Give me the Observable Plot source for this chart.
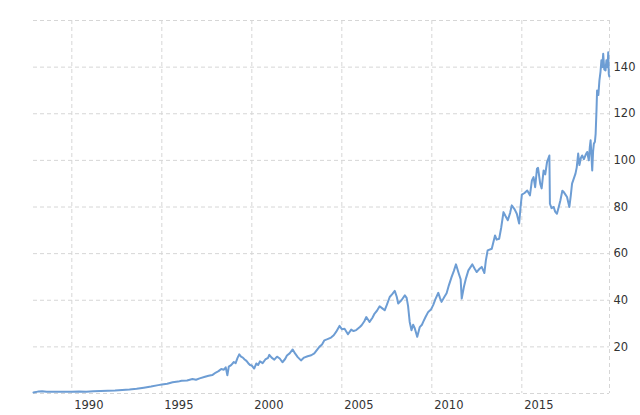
<!DOCTYPE html>
<html>
<head>
<meta charset="utf-8">
<script src="https://cdn.jsdelivr.net/npm/d3@7"></script>
<script src="https://cdn.jsdelivr.net/npm/@observablehq/plot@0.6"></script>
<style>
  html, body { margin: 0; padding: 0; background: #fff; }
  #chart { width: 640px; height: 415px; }
</style>
</head>
<body>
<div id="chart"></div>
<script>
// Decimal years and price values
const years = [
  1987.87,1988.0,1988.15,1988.35,1988.6,1988.9,1989.2,1989.6,1990.0,1990.4,1990.8,1991.2,1991.6,1992.0,1992.4,1992.8,
  1993.2,1993.6,1994.0,1994.4,1994.8,1995.0,1995.3,1995.6,1995.9,1996.1,1996.4,1996.7,1996.9,1997.1,1997.4,1997.6,1997.8,
  1998.0,1998.15,1998.3,1998.45,1998.55,1998.64,1998.72,1998.85,1999.0,1999.1,1999.2,1999.3,1999.4,1999.5,1999.6,1999.7,
  1999.8,1999.9,2000.0,2000.13,2000.25,2000.35,2000.45,2000.6,2000.75,2000.9,2000.97,2001.1,2001.25,2001.4,2001.55,2001.7,
  2001.85,2001.95,2002.1,2002.27,2002.4,2002.55,2002.73,2002.9,2003.1,2003.3,2003.47,2003.6,2003.75,2003.9,2004.03,2004.2,
  2004.4,2004.55,2004.68,2004.87,2005.0,2005.15,2005.34,2005.52,2005.65,2005.8,2006.0,2006.1,2006.25,2006.36,2006.54,2006.7,
  2006.82,2006.95,2007.1,2007.25,2007.38,2007.5,2007.66,2007.8,2007.94,2008.05,2008.13,2008.31,2008.5,2008.6,2008.68,2008.77,
  2008.87,2008.96,2009.05,2009.19,2009.33,2009.45,2009.52,2009.65,2009.8,2009.95,2010.08,2010.2,2010.36,2010.45,2010.54,2010.7,
  2010.82,2010.95,2011.1,2011.22,2011.34,2011.5,2011.6,2011.66,2011.78,2011.9,2012.03,2012.25,2012.38,2012.49,2012.65,2012.77,
  2012.92,2013.0,2013.1,2013.33,2013.51,2013.6,2013.74,2013.85,2013.98,2014.1,2014.22,2014.35,2014.44,2014.6,2014.72,2014.85,
  2014.93,2015.0,2015.15,2015.3,2015.45,2015.56,2015.65,2015.74,2015.84,2015.9,2016.02,2016.1,2016.21,2016.3,2016.4,2016.53,
  2016.56,2016.65,2016.77,2016.85,2016.95,2017.05,2017.14,2017.25,2017.33,2017.45,2017.51,2017.64,2017.72,2017.79,2017.9,2017.98,
  2018.05,2018.13,2018.2,2018.28,2018.35,2018.45,2018.55,2018.63,2018.72,2018.78,2018.82,2018.88,2018.91,2018.96,2019.0,2019.06,
  2019.1,2019.15,2019.18,2019.25,2019.31,2019.37,2019.42,2019.47,2019.52,2019.58,2019.65,2019.7,2019.76,2019.8,2019.83,2019.86
];
const prices = [
  0.4,0.6,0.9,1.0,0.8,0.8,0.7,0.8,0.8,0.9,0.8,1.0,1.1,1.2,1.3,1.5,
  1.7,2.0,2.5,3.0,3.6,3.9,4.2,4.8,5.1,5.5,5.6,6.2,5.9,6.5,7.2,7.6,7.9,
  9.0,9.6,10.5,10.2,11.2,7.8,11.5,12.2,13.5,13.0,15.2,16.8,15.8,15.4,14.6,14.0,
  13.0,12.2,12.0,10.7,12.9,12.2,13.8,13.0,14.6,15.3,16.6,15.4,14.5,15.8,15.0,13.4,
  14.8,16.3,17.2,18.9,17.2,15.6,14.2,15.4,16.0,16.4,17.2,18.5,20.0,21.0,22.8,23.3,
  24.0,25.0,26.4,29.0,27.6,27.8,25.4,27.4,26.8,27.2,28.5,29.3,31.0,32.8,30.7,32.5,
  34.3,35.5,37.4,36.5,35.7,38.0,41.4,42.6,44.0,41.5,38.6,40.0,42.1,41.0,37.5,30.7,
  27.1,29.5,28.0,24.3,28.5,29.5,30.7,32.8,35.0,36.0,38.0,40.5,43.2,41.0,39.3,41.5,
  43.0,46.5,50.0,52.5,55.4,51.4,49.0,40.7,45.7,49.5,52.8,55.4,53.5,52.1,53.5,54.3,
  51.7,57.0,61.4,62.1,67.8,66.0,66.4,71.0,77.8,76.0,74.3,77.5,80.7,79.0,77.1,72.9,
  80.0,85.3,86.0,87.1,85.0,91.4,92.8,88.5,96.4,96.8,90.0,88.0,95.7,94.0,99.3,102.1,
  81.4,79.5,80.0,78.0,77.1,80.0,82.8,87.0,86.4,85.0,84.3,80.0,85.0,90.0,92.5,94.3,
  97.0,102.9,98.0,101.0,102.1,100.5,102.5,103.6,100.0,106.0,108.6,100.0,95.7,104.0,107.1,108.0,
  111.4,122.0,130.0,128.0,134.3,138.0,142.9,140.0,145.7,139.0,138.6,143.0,140.0,146.4,137.0,136.0
];
const xTicks = [1990, 1995, 2000, 2005, 2010, 2015];
const yTicks = [20, 40, 60, 80, 100, 120, 140];
const yGrid = [0, 20, 40, 60, 80, 100, 120, 140, 160];
const xDomain = [1987.87, 2019.87];

const data = years.map((y, i) => ({year: y, price: prices[i]}));

const gridStyle = {stroke: "#d6d6d6", strokeOpacity: 1, strokeWidth: 1, strokeDasharray: "4,3"};

const chart = Plot.plot({
  width: 640,
  height: 415,
  marginLeft: 33,
  marginRight: 31,
  marginTop: 20,
  marginBottom: 22,
  style: {fontFamily: "'DejaVu Sans', Verdana, sans-serif", fontSize: "11.5px", color: "#333", background: "#fff"},
  x: {domain: xDomain, ticks: xTicks},
  y: {domain: [0, 160]},
  marks: [
    Plot.gridY(yGrid, gridStyle),
    Plot.gridX(xTicks, gridStyle),
    Plot.ruleX([xDomain[1]], gridStyle),
    Plot.axisY(yTicks, {anchor: "right", tickSize: 0, tickPadding: 4, label: null, textAnchor: "start", fill: "#333"}),
    Plot.axisX(xTicks, {anchor: "bottom", tickSize: 0, tickPadding: 7, label: null, tickFormat: d => String(d), dx: 17, fill: "#333"}),
    Plot.lineY(data, {x: "year", y: "price", stroke: "#6d9dd4", strokeWidth: 2, strokeLinejoin: "round"})
  ]
});
document.getElementById("chart").appendChild(chart);
</script>
</body>
</html>
